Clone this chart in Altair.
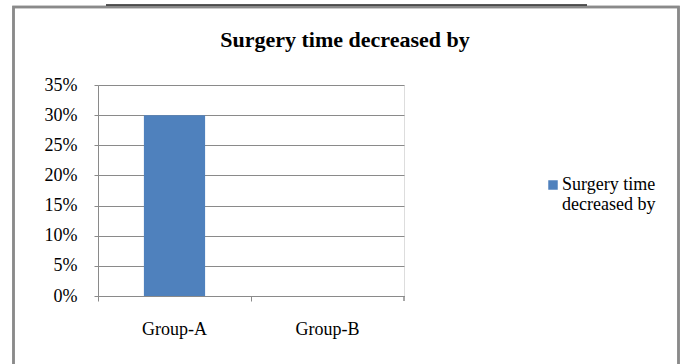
import altair as alt
import pandas as pd

# Chart values
groups = ["Group-A", "Group-B"]
decrease = [0.30, 0.0]
series_name = "Surgery time decreased by"

y_ticks = [0, 0.05, 0.10, 0.15, 0.20, 0.25, 0.30, 0.35]

FONT = "'Liberation Serif', 'Times New Roman', serif"
GRID = "#8a8a8a"
BLUE = "#4F81BD"

df = pd.DataFrame({"group": groups, "value": decrease, "series": [series_name] * len(groups)})

x_enc = alt.X(
    "group:N",
    sort=groups,
    scale=alt.Scale(paddingInner=0, paddingOuter=0),
    axis=alt.Axis(
        title=None,
        bandPosition=0,
        tickSize=5,
        tickColor=GRID,
        domainColor=GRID,
        labelAngle=0,
        labelPadding=19,
        labelFontSize=18,
        labelFont=FONT,
        labelColor="black",
        grid=False,
    ),
)
y_enc = alt.Y(
    "value:Q",
    scale=alt.Scale(domain=[0, 0.35], nice=False),
    axis=alt.Axis(
        title=None,
        values=y_ticks,
        format=".0%",
        tickSize=4,
        tickColor=GRID,
        domainColor=GRID,
        gridColor=GRID,
        labelPadding=17,
        labelFontSize=18,
        labelFont=FONT,
        labelColor="black",
    ),
)

bars = alt.Chart(df).mark_bar(width=alt.RelativeBandSize(0.4)).encode(
    x=x_enc,
    y=y_enc,
    color=alt.Color(
        "series:N",
        scale=alt.Scale(range=[BLUE]),
        legend=alt.Legend(
            title=None,
            orient="none",
            legendX=446,
            legendY=91,
            symbolType="square",
            symbolSize=90,
            symbolStrokeWidth=0,
            labelFont=FONT,
            labelFontSize=18,
            labelColor="black",
            labelOffset=0,
            labelLimit=220,
            labelExpr="split(replace(datum.label, 'time ', 'time|'), '|')",
        ),
    ),
)

# closing tick at the right end of the category axis
end_tick = alt.Chart(df).mark_rule(color=GRID).encode(
    x=alt.value(306), y=alt.value(211), y2=alt.value(216)
)

# outer chart frame
frame = alt.Chart(df).mark_rect(fill=None, stroke=GRID, strokeWidth=2.5).encode(
    x=alt.value(-84.5), x2=alt.value(580.5), y=alt.value(-78), y2=alt.value(300)
)

# rule beneath the caption line above the frame
caption_rule = alt.Chart(df).mark_rule(color="#222222", strokeWidth=1.2).encode(
    x=alt.value(8), x2=alt.value(489), y=alt.value(-80)
)

# chart heading
heading = alt.Chart(pd.DataFrame({"t": [series_name]})).mark_text(
    font=FONT, fontSize=22, fontWeight="bold", color="black",
    align="center", baseline="alphabetic",
).encode(text="t:N", x=alt.value(247), y=alt.value(-38))

chart = (
    alt.layer(frame, caption_rule, bars, end_tick, heading)
    .properties(
        width=306,
        height=211,
        autosize=alt.AutoSizeParams(type="none"),
        padding={"left": 98, "top": 85, "right": 280, "bottom": 68},
    )
    .configure_view(stroke=None)
    .configure(background="white")
)

chart.save("out.html", embed_options={"renderer": "svg", "actions": False})
